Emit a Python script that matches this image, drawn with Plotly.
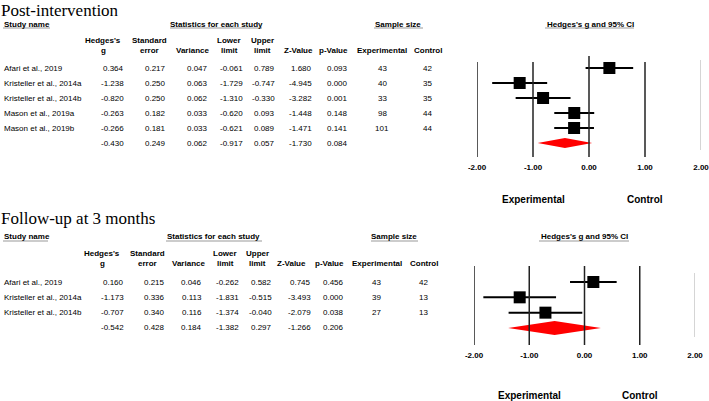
import plotly.graph_objects as go

# Post-intervention
post_names = ["Afari et al., 2019", "Kristeller et al., 2014a", "Kristeller et al., 2014b",
              "Mason et al., 2019a", "Mason et al., 2019b"]
post_g = [0.364, -1.238, -0.820, -0.263, -0.266]
post_se = [0.217, 0.250, 0.250, 0.182, 0.181]
post_var = [0.047, 0.063, 0.062, 0.033, 0.033]
post_lo = [-0.061, -1.729, -1.310, -0.620, -0.621]
post_hi = [0.789, -0.747, -0.330, 0.093, 0.089]
post_z = [1.680, -4.945, -3.282, -1.448, -1.471]
post_p = [0.093, 0.000, 0.001, 0.148, 0.141]
post_exp = [43, 40, 33, 98, 101]
post_ctl = [42, 35, 35, 44, 44]
# pooled: g, se, variance, lower, upper, z, p
post_total = [-0.430, 0.249, 0.062, -0.917, 0.057, -1.730, 0.084]

# Follow-up at 3 months
fu_names = ["Afari et al., 2019", "Kristeller et al., 2014a", "Kristeller et al., 2014b"]
fu_g = [0.160, -1.173, -0.707]
fu_se = [0.215, 0.336, 0.340]
fu_var = [0.046, 0.113, 0.116]
fu_lo = [-0.262, -1.831, -1.374]
fu_hi = [0.582, -0.515, -0.040]
fu_z = [0.745, -3.493, -2.079]
fu_p = [0.456, 0.000, 0.038]
fu_exp = [43, 39, 27]
fu_ctl = [42, 13, 13]
fu_total = [-0.542, 0.428, 0.184, -1.382, 0.297, -1.266, 0.206]

ticks = [-2, -1, 0, 1, 2]
tick_text = ["-2.00", "-1.00", "0.00", "1.00", "2.00"]
head1 = ["Hedges's", "Standard", "", "Lower", "Upper", "", ""]
head2 = ["g", "error", "Variance", "limit", "limit", "Z-Value", "p-Value"]

W, H = 709, 401
SANS = "Liberation Sans"
SERIF = "Liberation Serif"


def px(x):
    return x / W


def py(y):
    return 1 - y / H


fig = go.Figure()
annotations = []
shapes = []


def txt(x, y, s, size=8, anchor="center", xref="paper", yref="paper", family=SANS):
    annotations.append(dict(x=x, y=y, xref=xref, yref=yref, text=s, showarrow=False,
                            xanchor=anchor, yanchor="middle", borderpad=0,
                            font=dict(size=size, family=family, color="black")))


def hline(x0, x1, y):
    shapes.append(dict(type="line", xref="paper", yref="paper", x0=px(x0), x1=px(x1),
                       y0=py(y), y1=py(y), line=dict(color="#999999", width=1)))


panels = [
    dict(title="Post-intervention", title_y=10, band_y=24, ul_y=28, h1=41, h2=51,
         row0=68, step=15, right=[125, 167, 209, 244, 276, 313, 349],
         head=[103, 149, 192, 229, 262, 298, 333], ss=[382, 428],
         uls=[(3, 50), (170, 262), (374, 423), (545, 634)],
         stats_x=216, ss_x=398, ci_x=590, x0=477, x1=701, ytop=58, ybot=157,
         vl=(62, 157), vl0=56, vl2=(60, 150), lab_y=199, dh=0.33,
         names=post_names, cols=[post_g, post_se, post_var, post_lo, post_hi, post_z, post_p],
         exp=post_exp, ctl=post_ctl, total=post_total, xa="x", ya="y"),
    dict(title="Follow-up at 3 months", title_y=218, band_y=236, ul_y=241, h1=253, h2=263,
         row0=282, step=15.33, right=[125, 166, 203, 240, 273, 312, 345],
         head=[102, 147, 189, 225, 257, 291, 329], ss=[377, 424],
         uls=[(3, 48), (166, 262), (371, 418), (539, 629)],
         stats_x=214, ss_x=394, ci_x=584, x0=474, x1=695, ytop=262, ybot=345,
         vl=(266, 345), vl0=266, vl2=(273, 337), lab_y=395, dh=0.46,
         names=fu_names, cols=[fu_g, fu_se, fu_var, fu_lo, fu_hi, fu_z, fu_p],
         exp=fu_exp, ctl=fu_ctl, total=fu_total, xa="x2", ya="y2"),
]

for k, p in enumerate(panels):
    n = len(p["names"])
    g, lo, hi = p["cols"][0], p["cols"][3], p["cols"][4]

    # headings
    txt(px(0), py(p["title_y"]), p["title"], size=17, anchor="left", family=SERIF)
    txt(px(3), py(p["band_y"]), "<b>Study name</b>", anchor="left")
    txt(px(p["stats_x"]), py(p["band_y"]), "<b>Statistics for each study</b>")
    txt(px(p["ss_x"]), py(p["band_y"]), "<b>Sample size</b>")
    txt(px(p["ci_x"]), py(p["band_y"]), "<b>Hedges's g and 95% CI</b>")
    for a, b in p["uls"]:
        hline(a, b, p["ul_y"])
    for j in range(7):
        if head1[j]:
            txt(px(p["head"][j]), py(p["h1"]), "<b>" + head1[j] + "</b>")
        txt(px(p["head"][j]), py(p["h2"]), "<b>" + head2[j] + "</b>")
    txt(px(p["ss"][0]), py(p["h2"]), "<b>Experimental</b>")
    txt(px(p["ss"][1]), py(p["h2"]), "<b>Control</b>")

    # table rows
    for i in range(n):
        txt(px(3), i, p["names"][i], anchor="left", yref=p["ya"])
        for j in range(7):
            txt(px(p["right"][j]), i, "%.3f" % p["cols"][j][i], anchor="right", yref=p["ya"])
        txt(px(p["ss"][0]), i, str(p["exp"][i]), yref=p["ya"])
        txt(px(p["ss"][1]), i, str(p["ctl"][i]), yref=p["ya"])
    for j in range(7):
        txt(px(p["right"][j]), n, "%.3f" % p["total"][j], anchor="right", yref=p["ya"])

    # forest plot
    for v in ticks:
        if v == 2:
            y0, y1, col, wd = p["vl2"][0], p["vl2"][1], "#aaaaaa", 1
        elif v == 0:
            y0, y1, col, wd = p["vl0"], p["vl"][1], "#222222", 1.5
        else:
            y0, y1, col, wd = p["vl"][0], p["vl"][1], "#222222", 1.5
        shapes.append(dict(type="line", xref=p["xa"], yref="paper", x0=v, x1=v,
                           y0=py(y0), y1=py(y1), line=dict(color=col, width=wd)))

    fig.add_trace(go.Scatter(
        x=g, y=list(range(n)), mode="markers", xaxis=p["xa"], yaxis=p["ya"],
        marker=dict(symbol="square", size=12, color="black"),
        error_x=dict(type="data", symmetric=False,
                     array=[h - c for h, c in zip(hi, g)],
                     arrayminus=[c - l for c, l in zip(g, lo)],
                     color="black", thickness=2, width=0),
        showlegend=False, hoverinfo="skip"))

    tg, tlo, thi = p["total"][0], p["total"][3], p["total"][4]
    fig.add_trace(go.Scatter(
        x=[tlo, tg, thi, tg, tlo], y=[n, n - p["dh"], n, n + p["dh"], n],
        mode="lines", fill="toself", fillcolor="red", line=dict(color="red", width=0),
        xaxis=p["xa"], yaxis=p["ya"], showlegend=False, hoverinfo="skip"))

    txt(-1, py(p["lab_y"]), "<b>Experimental</b>", size=10, xref=p["xa"])
    txt(1, py(p["lab_y"]), "<b>Control</b>", size=10, xref=p["xa"])

    sfx = "" if k == 0 else "2"
    fig.layout["xaxis" + sfx] = dict(
        domain=[px(p["x0"]), px(p["x1"])], range=[-2, 2], anchor=p["ya"],
        tickvals=ticks, ticktext=["<b>" + t + "</b>" for t in tick_text],
        showgrid=False, zeroline=False, showline=False, automargin=False,
        ticklabeloverflow="allow",
        ticks="outside", ticklen=2, tickcolor="rgba(0,0,0,0)",
        tickfont=dict(size=8, family=SANS, color="black"))
    fig.layout["yaxis" + sfx] = dict(
        domain=[py(p["ybot"]), py(p["ytop"])], anchor=p["xa"], automargin=False,
        range=[(p["ybot"] - p["row0"]) / p["step"], (p["ytop"] - p["row0"]) / p["step"]],
        visible=False)

fig.update_layout(width=W, height=H, autosize=False, showlegend=False,
                  margin=dict(l=0, r=0, t=0, b=0, pad=0, autoexpand=False),
                  paper_bgcolor="white", plot_bgcolor="white",
                  annotations=annotations, shapes=shapes)

fig.write_html("out.html", config={"displayModeBar": False},
               post_script="document.body.style.margin = '0';")
